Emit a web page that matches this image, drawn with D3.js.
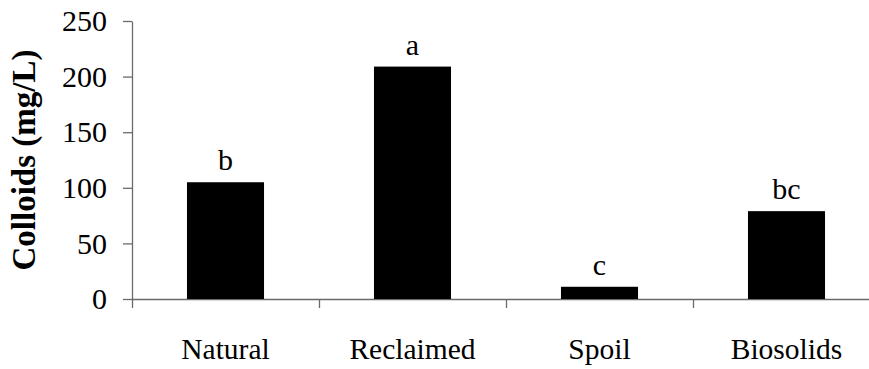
<!DOCTYPE html>
<html>
<head>
<meta charset="utf-8">
<script src="https://cdn.jsdelivr.net/npm/d3@7"></script>
<style>
  html, body { margin: 0; padding: 0; background: #fff; }
  svg { display: block; }
  svg text { font-family: "Liberation Serif", "Times New Roman", serif; }
</style>
</head>
<body>
<svg id="chart" width="869" height="369"></svg>
<script>
// Colloid concentration by site type, with significance letters
const categories = ["Natural", "Reclaimed", "Spoil", "Biosolids"];
const colloids = [105, 209, 11, 79];
const groupLetters = ["b", "a", "c", "bc"];
const yTicks = [0, 50, 100, 150, 200, 250];

const svg = d3.select("#chart");
const axisColor = "#6a6a6a";

const x0 = 132, x1 = 880, yBase = 299, yTop = 21;

const x = d3.scaleBand()
  .domain(categories)
  .range([x0, x1])
  .paddingInner(0.588)
  .paddingOuter(0.294);

const y = d3.scaleLinear().domain([0, 250]).range([yBase, yTop]);

// Y axis
const yAxis = svg.append("g")
  .attr("transform", `translate(${x0},0)`)
  .call(d3.axisLeft(y).tickValues(yTicks).tickSize(9).tickSizeOuter(0).tickPadding(16));
yAxis.attr("font-family", null);
yAxis.select(".domain").attr("stroke", axisColor).attr("stroke-width", 1.3);
yAxis.selectAll(".tick line").attr("stroke", axisColor).attr("stroke-width", 1.3);
yAxis.selectAll(".tick text").attr("font-size", 30).attr("fill", "#000");

// X axis baseline with ticks at category boundaries
const step = x.step();
const boundaries = d3.range(categories.length + 1).map(i => x0 + i * step);
const xb = d3.scaleLinear().domain([x0, x1]).range([x0, x1]);
const xAxis = svg.append("g")
  .attr("transform", `translate(0,${yBase})`)
  .call(d3.axisBottom(xb).tickValues(boundaries).tickSize(9).tickSizeOuter(0).tickFormat(""));
xAxis.select(".domain").attr("stroke", axisColor).attr("stroke-width", 1.3);
xAxis.selectAll(".tick line").attr("stroke", axisColor).attr("stroke-width", 1.3);

// Bars
svg.append("g").selectAll("rect")
  .data(categories)
  .join("rect")
  .attr("x", d => x(d))
  .attr("y", (d, i) => y(colloids[i]))
  .attr("width", x.bandwidth())
  .attr("height", (d, i) => yBase - y(colloids[i]))
  .attr("fill", "#000");

// Significance letters above bars
svg.append("g").selectAll("text")
  .data(categories)
  .join("text")
  .attr("x", d => x(d) + x.bandwidth() / 2)
  .attr("y", (d, i) => y(colloids[i]) - 12)
  .attr("text-anchor", "middle")
  .attr("font-size", 30)
  .text((d, i) => groupLetters[i]);

// Category labels
svg.append("g").selectAll("text")
  .data(categories)
  .join("text")
  .attr("x", d => x(d) + x.bandwidth() / 2)
  .attr("y", 359)
  .attr("text-anchor", "middle")
  .attr("font-size", 29.5)
  .text(d => d);

// Y axis title
svg.append("text")
  .attr("transform", `translate(35,${(yBase + yTop) / 2}) rotate(-90)`)
  .attr("text-anchor", "middle")
  .attr("font-weight", "bold")
  .attr("font-size", 33)
  .text("Colloids (mg/L)");
</script>
</body>
</html>
